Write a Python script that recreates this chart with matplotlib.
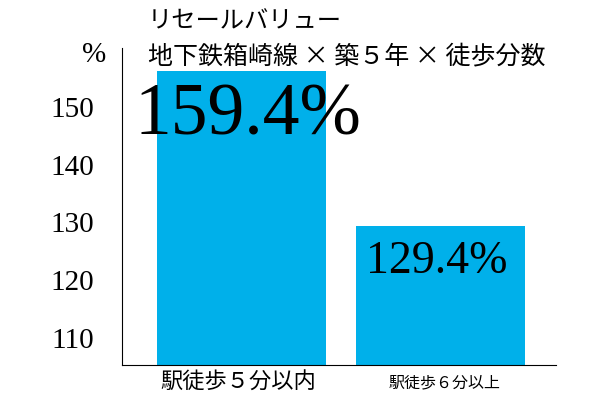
import matplotlib
matplotlib.use('Agg')
import matplotlib.pyplot as plt

categories = ['駅徒歩５分以内', '駅徒歩６分以上']
bar_heights = [156.2, 129.3]
value_labels = ['159.4%', '129.4%']
yticks = [110, 120, 130, 140, 150]
title_lines = ['リセールバリュー', '地下鉄箱崎線 × 築５年 × 徒歩分数']

SERIF_JP = ['Liberation Serif', 'Noto Sans CJK JP']
CJK_FIRST = ['Noto Sans CJK JP', 'Liberation Serif']
BLUE = '#00b0ea'

fig = plt.figure(figsize=(6, 4), dpi=100)
ax = fig.add_axes([0.203, 0.0875, 0.724, 0.7925])

x = [0, 1]
ax.bar(x, bar_heights, width=0.85, color=BLUE)
ax.set_ylim(105.3, 160.2)
ax.set_xlim(-0.602, 1.58)

ax.set_yticks(yticks)
ax.set_yticklabels([str(t) for t in yticks], family='Liberation Serif', fontsize=21)
ax.tick_params(axis='y', length=0, pad=20)
ax.set_xticks([])

for side in ['top', 'right']:
    ax.spines[side].set_visible(False)

# value labels inside bars
ax.text(0.03, 148.3, value_labels[0], ha='center', va='center',
        family='Liberation Serif', fontsize=53)
ax.text(0.98, 123.1, value_labels[1], ha='center', va='center',
        family='Liberation Serif', fontsize=33)

# category labels
fig.text(238 / 600, 1 - 383 / 400, categories[0], ha='center', va='center',
         family=SERIF_JP, fontsize=16)
fig.text(445 / 600, 1 - 383 / 400, categories[1], ha='center', va='center',
         family=SERIF_JP, fontsize=11.5)

# title and unit
fig.text(148 / 600, 1 - 21 / 400, title_lines[0], ha='left', va='center',
         family=CJK_FIRST, fontsize=17.5)
fig.text(148 / 600, 1 - 56 / 400, title_lines[1], ha='left', va='center',
         family=CJK_FIRST, fontsize=18)
fig.text(94 / 600, 1 - 55 / 400, '%', ha='center', va='center',
         family='Liberation Serif', fontsize=21)

fig.savefig('out.png', dpi=100)
